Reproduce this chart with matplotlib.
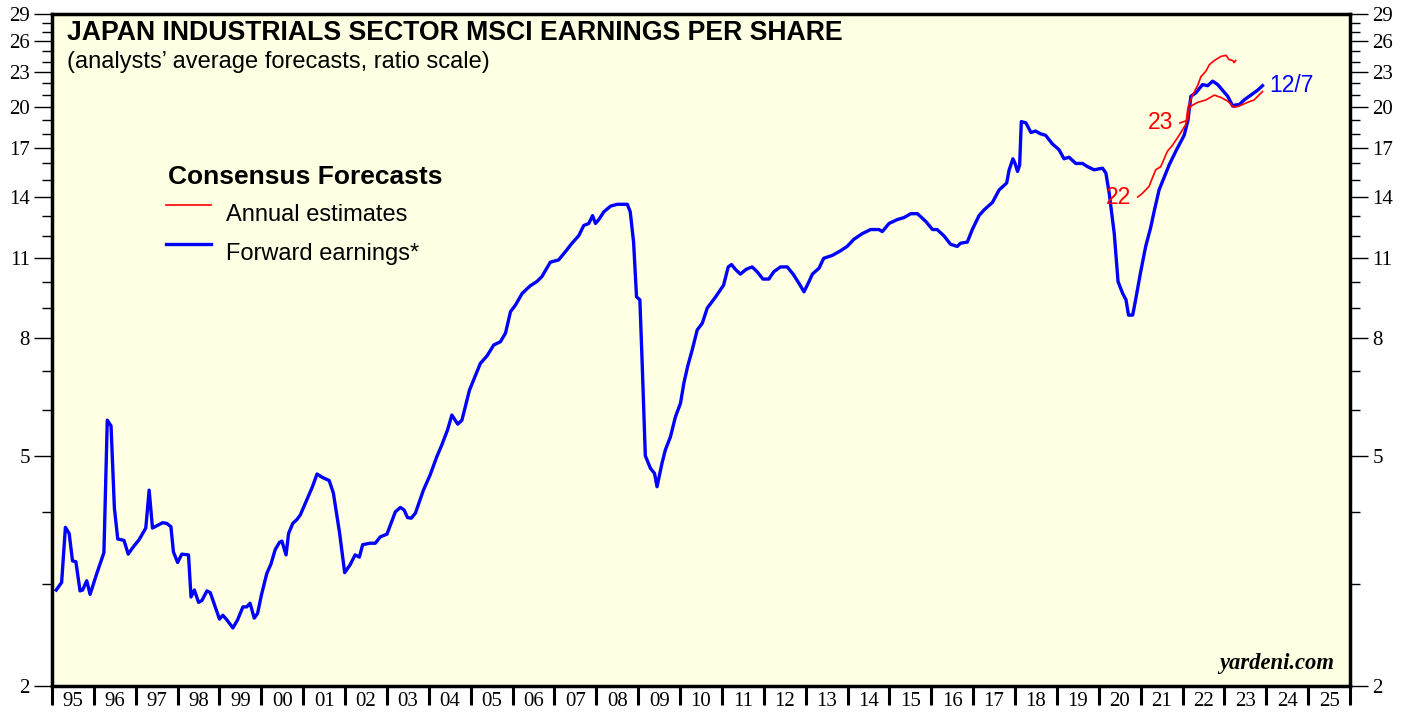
import matplotlib
matplotlib.use('Agg')
import matplotlib.pyplot as plt
from matplotlib.ticker import FixedLocator, NullFormatter

# forward earnings (decimal year, value)
fwd_dates = [1995.10, 1995.23, 1995.32, 1995.41, 1995.49, 1995.57, 1995.67, 1995.73, 1995.83, 1995.91,
             1996.07, 1996.24, 1996.32, 1996.41, 1996.49, 1996.57, 1996.72, 1996.82, 1996.93,
             1997.08, 1997.24, 1997.32, 1997.40, 1997.64, 1997.74, 1997.84, 1997.90,
             1998.00, 1998.10, 1998.26, 1998.32, 1998.40, 1998.50, 1998.58, 1998.70, 1998.78,
             1999.00, 1999.08, 1999.18, 1999.32, 1999.43, 1999.56, 1999.65, 1999.73, 1999.83, 1999.91,
             2000.00, 2000.13, 2000.23, 2000.33, 2000.43, 2000.49, 2000.59, 2000.65, 2000.75, 2000.85, 2000.93,
             2001.05, 2001.22, 2001.33, 2001.45, 2001.62, 2001.72, 2001.87, 2001.99,
             2002.12, 2002.24, 2002.34, 2002.42, 2002.60, 2002.72, 2002.84,
             2003.00, 2003.20, 2003.32, 2003.41, 2003.49, 2003.58, 2003.68, 2003.87,
             2004.03, 2004.19, 2004.31, 2004.45, 2004.55, 2004.69, 2004.79, 2004.97,
             2005.23, 2005.39, 2005.55, 2005.71, 2005.83, 2005.95,
             2006.07, 2006.23, 2006.42, 2006.58, 2006.70, 2006.90,
             2007.10, 2007.26, 2007.42, 2007.58, 2007.70, 2007.82, 2007.91, 2007.98,
             2008.06, 2008.18, 2008.34, 2008.50, 2008.74, 2008.81, 2008.89, 2008.96,
             2009.04, 2009.09, 2009.17, 2009.29, 2009.39, 2009.45, 2009.57, 2009.65, 2009.77, 2009.89,
             2010.01, 2010.09, 2010.18, 2010.29, 2010.41, 2010.53, 2010.65, 2010.85,
             2011.04, 2011.15, 2011.23, 2011.32, 2011.44, 2011.58, 2011.72, 2011.84, 2011.98,
             2012.12, 2012.24, 2012.40, 2012.56, 2012.70, 2012.84, 2012.96,
             2013.08, 2013.16, 2013.32, 2013.43, 2013.64, 2013.83, 2013.99,
             2014.15, 2014.35, 2014.55, 2014.75, 2014.83, 2014.99,
             2015.19, 2015.35, 2015.51, 2015.67, 2015.87,
             2016.03, 2016.14, 2016.30, 2016.46, 2016.62, 2016.70, 2016.86, 2016.98,
             2017.14, 2017.26, 2017.46, 2017.62, 2017.80, 2017.86, 2017.95,
             2018.00, 2018.06, 2018.11, 2018.15, 2018.26, 2018.38, 2018.49, 2018.61, 2018.73, 2018.89,
             2019.05, 2019.17, 2019.29, 2019.45, 2019.61, 2019.73, 2019.89,
             2020.09, 2020.17, 2020.25, 2020.37, 2020.46, 2020.57, 2020.65, 2020.71, 2020.81, 2020.88, 2020.99,
             2021.12, 2021.24, 2021.32, 2021.44, 2021.68, 2021.84,
             2022.04, 2022.13, 2022.20, 2022.32, 2022.48, 2022.60, 2022.72, 2022.84, 2022.96,
             2023.08, 2023.20, 2023.27, 2023.35, 2023.47, 2023.63, 2023.79, 2023.91]
fwd_values = [2.93, 3.02, 3.76, 3.67, 3.29, 3.28, 2.92, 2.93, 3.04, 2.88,
              3.13, 3.40, 5.76, 5.63, 4.06, 3.59, 3.57, 3.38, 3.47,
              3.58, 3.75, 4.36, 3.75, 3.83, 3.82, 3.77, 3.41,
              3.27, 3.38, 3.37, 2.85, 2.93, 2.79, 2.81, 2.92, 2.90,
              2.61, 2.65, 2.60, 2.52, 2.60, 2.74, 2.74, 2.78, 2.62, 2.67,
              2.87, 3.13, 3.25, 3.44, 3.54, 3.56, 3.37, 3.67, 3.82, 3.88, 3.95,
              4.14, 4.42, 4.65, 4.59, 4.53, 4.31, 3.67, 3.14,
              3.24, 3.37, 3.34, 3.51, 3.53, 3.53, 3.62,
              3.66, 4.00, 4.07, 4.03, 3.91, 3.90, 3.98, 4.36,
              4.63, 4.98, 5.22, 5.55, 5.88, 5.67, 5.76, 6.49,
              7.22, 7.44, 7.77, 7.87, 8.14, 8.87,
              9.11, 9.54, 9.83, 10.0, 10.2, 10.8,
              10.9, 11.26, 11.65, 12.0, 12.5, 12.6, 13.0, 12.6,
              12.8, 13.2, 13.5, 13.6, 13.6, 13.2, 11.7, 9.41,
              9.3, 7.4, 5.0, 4.76, 4.66, 4.42, 4.86, 5.12, 5.39, 5.84,
              6.16, 6.67, 7.13, 7.62, 8.25, 8.47, 9.0, 9.41,
              9.86, 10.6, 10.7, 10.5, 10.3, 10.5, 10.6, 10.4, 10.1,
              10.1, 10.4, 10.6, 10.6, 10.3, 9.93, 9.60,
              10.0, 10.3, 10.55, 10.97, 11.1, 11.3, 11.5,
              11.83, 12.1, 12.3, 12.3, 12.2, 12.6,
              12.8, 12.9, 13.1, 13.1, 12.7,
              12.3, 12.3, 12.0, 11.6, 11.5, 11.65, 11.7, 12.3,
              13.0, 13.3, 13.7, 14.4, 14.8, 15.6, 16.3,
              16.0, 15.5, 15.9, 18.9, 18.8, 18.1, 18.2, 18.0, 17.9, 17.3,
              16.9, 16.3, 16.4, 16.0, 16.0, 15.8, 15.6,
              15.7, 15.4, 14.2, 12.1, 10.0, 9.54, 9.3, 8.75, 8.75, 9.3, 10.3,
              11.5, 12.4, 13.2, 14.4, 15.9, 16.8,
              17.9, 19.0, 20.9, 21.2, 21.9, 21.8, 22.2, 21.9, 21.4,
              20.9, 20.1, 20.2, 20.2, 20.6, 21.0, 21.4, 21.8]

# annual estimates
est22_dates = [2020.93, 2021.04, 2021.20, 2021.28, 2021.36, 2021.48, 2021.64, 2021.76, 2021.92,
               2022.08, 2022.13, 2022.24, 2022.36, 2022.44, 2022.56, 2022.64, 2022.76, 2022.92,
               2023.04, 2023.11, 2023.20, 2023.23, 2023.27]
est22_values = [14.0, 14.2, 14.6, 15.1, 15.6, 15.8, 16.8, 17.2, 17.9,
                18.7, 20.0, 21.0, 21.8, 22.6, 23.1, 23.7, 24.1, 24.5,
                24.6, 24.2, 24.1, 23.9, 24.1]
est23_dates = [2021.94, 2022.12, 2022.16, 2022.20, 2022.36, 2022.56, 2022.76, 2022.92,
               2023.08, 2023.23, 2023.35, 2023.55, 2023.71, 2023.91]
est23_values = [18.8, 19.0, 19.8, 20.1, 20.4, 20.6, 21.0, 20.8,
                20.5, 20.0, 20.1, 20.4, 20.6, 21.3]

y_labels = [2, 5, 8, 11, 14, 17, 20, 23, 26, 29]
years = list(range(1995, 2026))

BG = '#ffffe3'
SERIF = 'Liberation Serif'
SANS = 'Liberation Sans'


def main():
    fig = plt.figure(figsize=(14.07, 7.17), dpi=100)
    ax = fig.add_axes([52 / 1407, 1 - 686 / 717, 1298 / 1407, 672 / 717])
    ax.set_facecolor(BG)

    ax.plot(fwd_dates, fwd_values, color='#0000ff', lw=2.4, solid_joinstyle='round')
    ax.plot(est22_dates, est22_values, color='#ff0000', lw=1.2)
    ax.plot(est23_dates, est23_values, color='#ff0000', lw=1.2)

    ax.set_yscale('log')
    ax.set_ylim(2, 29)
    ax.set_xlim(1995, 2026)

    ax.yaxis.set_major_locator(FixedLocator(y_labels))
    ax.yaxis.set_minor_locator(FixedLocator([v for v in range(3, 29) if v not in y_labels]))
    ax.set_yticklabels([str(v) for v in y_labels], family=SERIF, fontsize=15)
    ax.yaxis.set_minor_formatter(NullFormatter())
    ax.tick_params(axis='y', which='major', direction='out', length=13, width=1,
                   left=True, right=True, labelleft=True, labelright=True, pad=3)
    ax.tick_params(axis='y', which='minor', direction='out', length=7, width=1,
                   left=True, right=True)

    ax.xaxis.set_major_locator(FixedLocator(years + [2026]))
    ax.xaxis.set_major_formatter(NullFormatter())
    ax.xaxis.set_minor_locator(FixedLocator([y + 0.5 for y in years]))
    ax.set_xticklabels(['%02d' % (y % 100) for y in years], minor=True, family=SERIF, fontsize=15)
    ax.tick_params(axis='x', which='major', direction='out', length=14, width=2.2)
    ax.tick_params(axis='x', which='minor', length=0, pad=4)

    for s in ax.spines.values():
        s.set_linewidth(2.5)

    fig.text(67 / 1407, 1 - 33 / 717, 'JAPAN INDUSTRIALS SECTOR MSCI EARNINGS PER SHARE',
             family=SANS, weight='bold', fontsize=19.2, va='center')
    fig.text(67 / 1407, 1 - 62 / 717, '(analysts\u2019 average forecasts, ratio scale)',
             family=SANS, fontsize=17, va='center')

    # legend
    fig.text(168 / 1407, 1 - 177 / 717, 'Consensus Forecasts', family=SANS, weight='bold',
             fontsize=19, va='center')
    ax.plot([0.0879, 0.1225], [0.7155, 0.7155], transform=ax.transAxes, color='#ff0000', lw=1.2)
    ax.plot([0.0879, 0.1225], [0.6577, 0.6577], transform=ax.transAxes, color='#0000ff', lw=2.4)
    fig.text(226 / 1407, 1 - 215 / 717, 'Annual estimates', family=SANS, fontsize=17, va='center')
    fig.text(226 / 1407, 1 - 254 / 717, 'Forward earnings*', family=SANS, fontsize=17, va='center')

    ax.text(2020.92 - 0.15, 14.0, '22', color='#ff0000', family=SANS, fontsize=16.5,
            ha='right', va='center')
    ax.text(2021.94 - 0.15, 18.8, '23', color='#ff0000', family=SANS, fontsize=16.5,
            ha='right', va='center')
    ax.text(2023.91 + 0.15, 21.8, '12/7', color='#0000ff', family=SANS, fontsize=16.5,
            ha='left', va='center')

    ax.text(0.988, 0.018, 'yardeni.com', transform=ax.transAxes, family=SERIF, weight='bold',
            style='italic', fontsize=16.3, ha='right', va='bottom')

    fig.savefig('out.png', dpi=100, facecolor='white')


if __name__ == "__main__":
    main()
